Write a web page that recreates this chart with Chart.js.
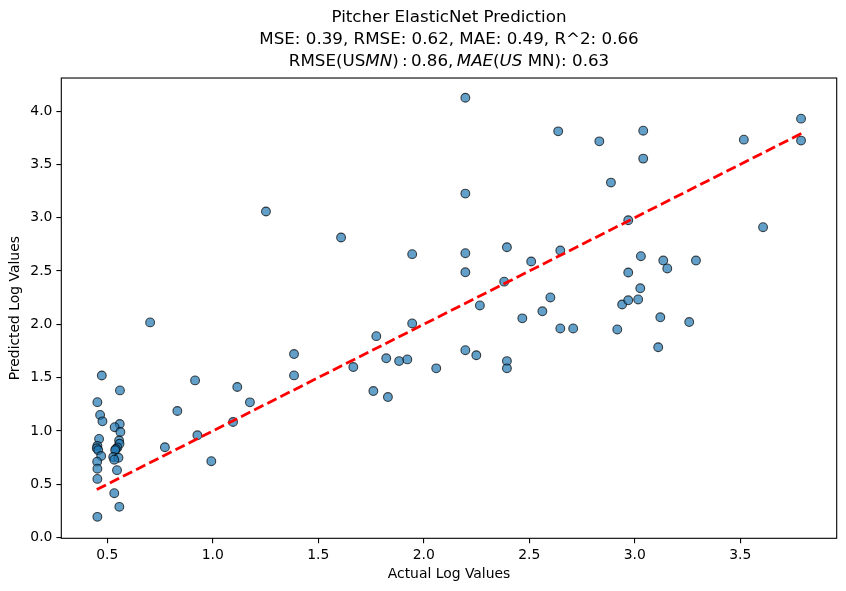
<!DOCTYPE html>
<html>
<head>
<meta charset="utf-8">
<script src="https://cdn.jsdelivr.net/npm/chart.js@4.4.0/dist/chart.umd.min.js"></script>
<style>
  html, body { margin: 0; padding: 0; background: #fff; }
  #wrap { width: 846px; height: 591px; }
</style>
</head>
<body>
<div id="wrap"><canvas id="chart" width="846" height="591"></canvas></div>
<script>
// actual vs predicted (log values)
const actual = [
    0.474, 0.453, 0.466, 0.477, 0.461, 0.453, 0.450, 0.457, 0.471, 0.452, 0.453, 0.453, 0.453,
    0.560, 0.559, 0.535, 0.562, 0.556, 0.558, 0.548, 0.541, 0.537, 0.528, 0.553, 0.533, 0.546, 0.533, 0.557,
    0.703, 0.773, 0.832, 0.916, 0.927, 0.993, 1.096, 1.116, 1.176, 1.252, 1.385, 1.385,
    1.608, 1.666, 1.761, 1.775, 1.822, 1.830, 1.883, 1.922, 1.945, 1.945, 2.059,
    2.197, 2.197, 2.197, 2.197, 2.197, 2.249, 2.266, 2.381, 2.394, 2.394, 2.394,
    2.467, 2.509, 2.562, 2.600, 2.637, 2.647, 2.647, 2.708, 2.832, 2.887, 2.917, 2.940,
    2.969, 2.969, 2.969, 3.016, 3.026, 3.029, 3.040, 3.040, 3.111, 3.121, 3.135, 3.154,
    3.258, 3.290, 3.517, 3.608, 3.788, 3.788
];
const predicted = [
    1.520, 1.270, 1.150, 1.090, 0.925, 0.860, 0.837, 0.820, 0.765, 0.712, 0.646, 0.550, 0.194,
    1.380, 1.065, 1.035, 0.990, 0.910, 0.880, 0.845, 0.830, 0.820, 0.755, 0.748, 0.730, 0.632, 0.416, 0.288,
    2.018, 0.847, 1.187, 1.474, 0.959, 0.716, 1.084, 1.412, 1.268, 3.058, 1.721, 1.521,
    2.814, 1.599, 1.374, 1.889, 1.681, 1.318, 1.655, 1.671, 2.658, 2.008, 1.587,
    4.125, 3.226, 2.667, 2.488, 1.757, 1.710, 2.177, 2.400, 2.723, 1.655, 1.587,
    2.056, 2.589, 2.122, 2.252, 3.810, 2.692, 1.961, 1.961, 3.716, 3.329, 1.952, 2.186,
    2.976, 2.486, 2.225, 2.233, 2.338, 2.639, 3.816, 3.554, 1.785, 2.066, 2.598, 2.524,
    2.021, 2.598, 3.732, 2.911, 3.929, 3.723
];
// y = x reference line between min and max actual
const refLine = [0.45, 3.79];

const xTicks = [0.5, 1.0, 1.5, 2.0, 2.5, 3.0, 3.5];
const yTicks = [0.0, 0.5, 1.0, 1.5, 2.0, 2.5, 3.0, 3.5, 4.0];

const titleLines = [
    'Pitcher ElasticNet Prediction',
    'MSE: 0.39, RMSE: 0.62, MAE: 0.49, R^2: 0.66',
];
// third title line, mathtext style: [text, italic]
const mathParts = [
    ['RMSE(US', false], ['MN', true], [')', false], ['\u2009:\u2009', false], ['0.86,\u2009', false],
    ['MAE', true], ['(', false], ['US', true], [' MN): 0.63', false],
];

const FONT = 'DejaVu Sans';
Chart.defaults.font.family = FONT;
Chart.defaults.color = '#000';

const mathLine = {
    id: 'mathLine',
    afterDraw(chart) {
        const ctx = chart.ctx;
        const area = chart.chartArea;
        const size = 16.7;
        const fontOf = it => (it ? 'italic ' : '') + size + 'px "' + FONT + '"';
        ctx.save();
        let total = 0;
        mathParts.forEach(p => {
            ctx.font = fontOf(p[1]);
            total += ctx.measureText(p[0]).width;
        });
        let x = (area.left + area.right) / 2 - total / 2;
        ctx.fillStyle = '#000';
        ctx.textBaseline = 'middle';
        ctx.textAlign = 'left';
        mathParts.forEach(p => {
            ctx.font = fontOf(p[1]);
            ctx.fillText(p[0], x, 61.3);
            x += ctx.measureText(p[0]).width;
        });
        ctx.restore();
    }
};

const frame = {
    id: 'frame',
    afterDatasetsDraw(chart) {
        const { ctx, chartArea: a } = chart;
        ctx.save();
        ctx.strokeStyle = '#000';
        ctx.lineWidth = 1.1;
        ctx.strokeRect(a.left, a.top, a.right - a.left, a.bottom - a.top);
        ctx.restore();
    }
};

const tickFont = { family: FONT, size: 13.9 };

new Chart(document.getElementById('chart'), {
    type: 'scatter',
    data: {
        datasets: [
            {
                type: 'line',
                data: refLine.map(v => ({ x: v, y: v })),
                borderColor: 'rgb(255, 0, 0)',
                borderWidth: 2.8,
                borderDash: [10.3, 4.4],
                pointRadius: 0,
                fill: false,
                order: 0,
            },
            {
                data: actual.map((v, i) => ({ x: v, y: predicted[i] })),
                backgroundColor: 'rgba(31, 119, 180, 0.7)',
                borderColor: 'rgba(0, 0, 0, 0.7)',
                borderWidth: 1.1,
                pointRadius: 4.4,
                pointHoverRadius: 4.4,
                order: 1,
            },
        ],
    },
    options: {
        responsive: false,
        animation: false,
        devicePixelRatio: 1,
        layout: { padding: { left: 0, right: 9.3, top: 0, bottom: 0 } },
        plugins: {
            legend: { display: false },
            tooltip: { enabled: false },
            title: {
                display: true,
                fullSize: false,
                text: titleLines,
                color: '#000',
                font: { family: FONT, size: 16.7, weight: 'normal', lineHeight: 1.3 },
                padding: { top: 7, bottom: 27.6 },
            },
        },
        scales: {
            x: {
                type: 'linear',
                min: 0.282,
                max: 3.957,
                afterBuildTicks: s => { s.ticks = xTicks.map(v => ({ value: v })); },
                afterFit: s => { s.height = 52.7; },
                ticks: {
                    callback: v => v.toFixed(1),
                    color: '#000',
                    font: tickFont,
                    padding: 4,
                    maxRotation: 0,
                    autoSkip: false,
                },
                grid: { drawOnChartArea: false, drawTicks: true, tickLength: 4.9, color: '#000', lineWidth: 1.1 },
                border: { display: false },
                title: {
                    display: true,
                    text: 'Actual Log Values',
                    color: '#000',
                    font: tickFont,
                    padding: { top: 4, bottom: 8.7 },
                },
            },
            y: {
                type: 'linear',
                min: -0.007,
                max: 4.31,
                afterBuildTicks: s => { s.ticks = yTicks.map(v => ({ value: v })); },
                afterFit: s => { s.width = 61.3; },
                ticks: {
                    callback: v => v.toFixed(1),
                    color: '#000',
                    font: tickFont,
                    padding: 4,
                    autoSkip: false,
                },
                grid: { drawOnChartArea: false, drawTicks: true, tickLength: 4.9, color: '#000', lineWidth: 1.1 },
                border: { display: false },
                title: {
                    display: true,
                    text: 'Predicted Log Values',
                    color: '#000',
                    font: tickFont,
                    padding: { top: 7.2, bottom: 4 },
                },
            },
        },
    },
    plugins: [frame, mathLine],
});
</script>
</body>
</html>
